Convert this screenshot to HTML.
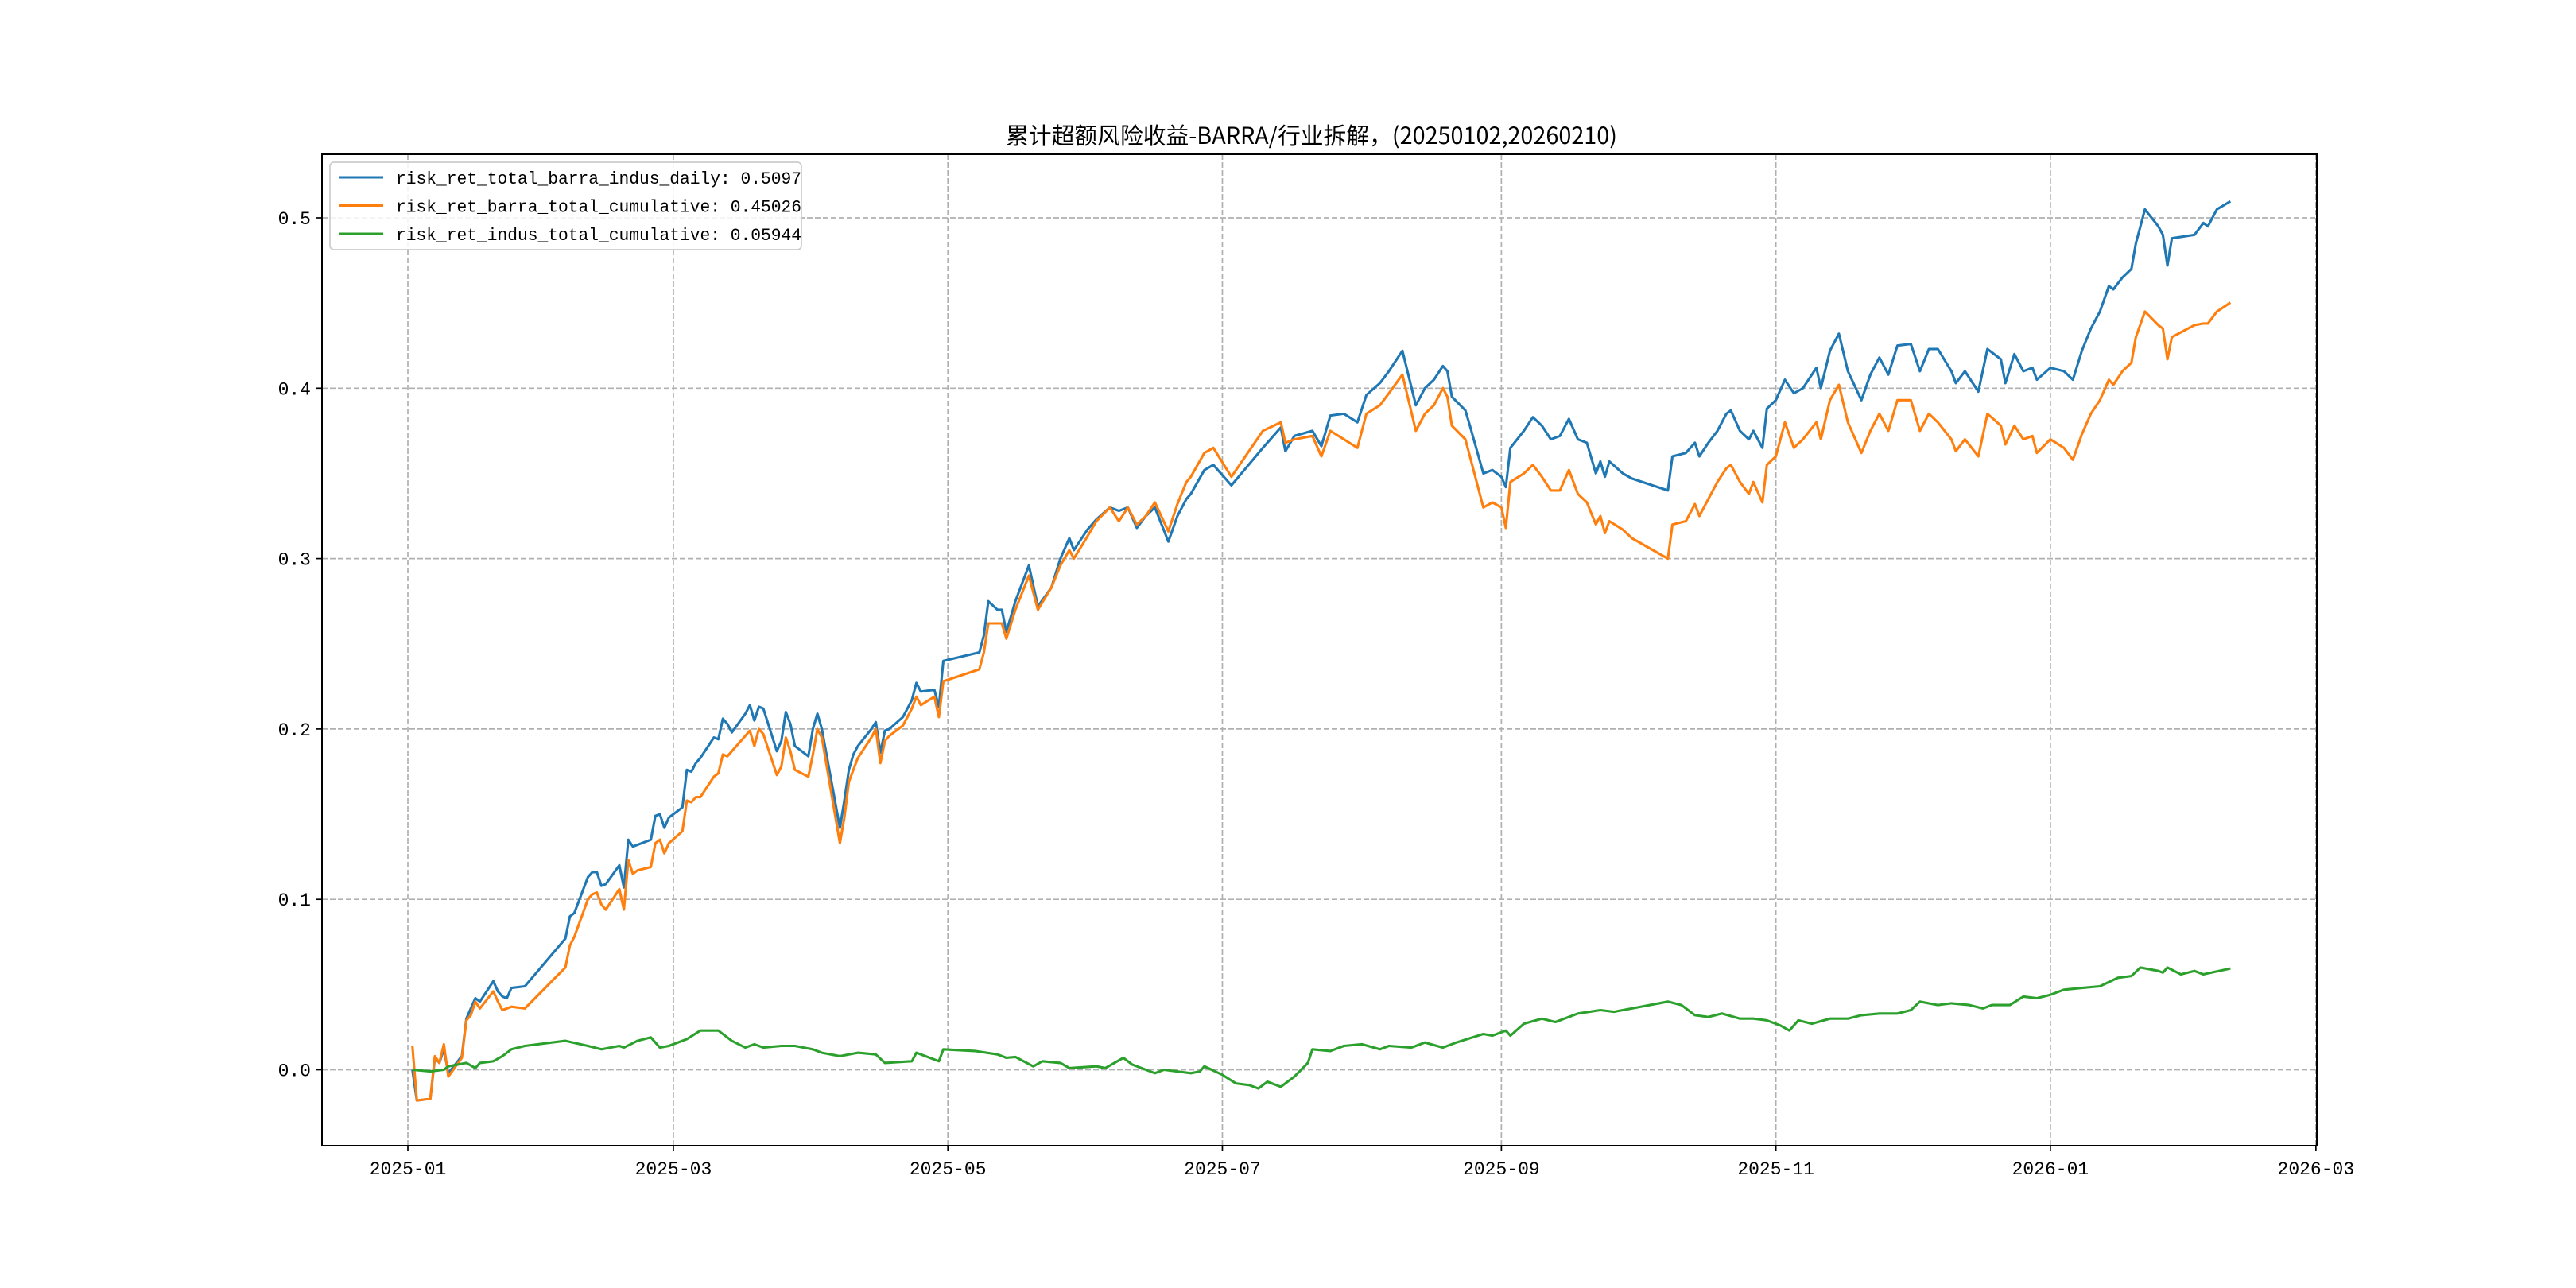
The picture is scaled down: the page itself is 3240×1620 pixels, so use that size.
<!DOCTYPE html>
<html><head><meta charset="utf-8"><style>
html,body{margin:0;padding:0;background:#fff;}
svg{display:block;}
text{font-family:"Liberation Mono","Noto Sans CJK SC",monospace;fill:#000;}
</style></head><body>
<svg id="chart" width="3240" height="1620" viewBox="0 0 3240 1620" xmlns="http://www.w3.org/2000/svg">
<rect width="3240" height="1620" fill="#fff"/>
<g id="grid"></g><g id="series"></g><g id="axes"></g><g id="legend"></g>
<text x="1265" y="181" font-size="29" textLength="769" lengthAdjust="spacingAndGlyphs" style="font-family:'Noto Sans CJK SC','WenQuanYi Zen Hei',sans-serif">累计超额风险收益-BARRA/行业拆解，(20250102,20260210)</text>
</svg>
<script>
const seriesNames = ["risk_ret_total_barra_indus_daily: 0.5097","risk_ret_barra_total_cumulative: 0.45026","risk_ret_indus_total_cumulative: 0.05944"];
const seriesColors = ["#1f77b4","#ff7f0e","#2ca02c"];
const yTicks = [0.0,0.1,0.2,0.3,0.4,0.5];
const xTicks = ["2025-01","2025-03","2025-05","2025-07","2025-09","2025-11","2026-01","2026-03"];
const dates = ["2025-01-02","2025-01-03","2025-01-06","2025-01-07","2025-01-08","2025-01-09","2025-01-10","2025-01-13","2025-01-14","2025-01-15","2025-01-16","2025-01-17","2025-01-20","2025-01-21","2025-01-22","2025-01-23","2025-01-24","2025-01-27","2025-02-05","2025-02-06","2025-02-07","2025-02-10","2025-02-11","2025-02-12","2025-02-13","2025-02-14","2025-02-17","2025-02-18","2025-02-19","2025-02-20","2025-02-21","2025-02-24","2025-02-25","2025-02-26","2025-02-27","2025-02-28","2025-03-03","2025-03-04","2025-03-05","2025-03-06","2025-03-07","2025-03-10","2025-03-11","2025-03-12","2025-03-13","2025-03-14","2025-03-17","2025-03-18","2025-03-19","2025-03-20","2025-03-21","2025-03-24","2025-03-25","2025-03-26","2025-03-27","2025-03-28","2025-03-31","2025-04-01","2025-04-02","2025-04-03","2025-04-07","2025-04-08","2025-04-09","2025-04-10","2025-04-11","2025-04-14","2025-04-15","2025-04-16","2025-04-17","2025-04-18","2025-04-21","2025-04-22","2025-04-23","2025-04-24","2025-04-25","2025-04-28","2025-04-29","2025-04-30",
"2025-05-08","2025-05-09","2025-05-10","2025-05-12","2025-05-13","2025-05-14","2025-05-16","2025-05-19","2025-05-21","2025-05-24","2025-05-26","2025-05-28","2025-05-29","2025-06-01","2025-06-03","2025-06-06","2025-06-08","2025-06-10","2025-06-12","2025-06-14","2025-06-16","2025-06-19","2025-06-21","2025-06-23","2025-06-24","2025-06-27","2025-06-29","2025-07-03","2025-07-10","2025-07-14","2025-07-15","2025-07-17","2025-07-21","2025-07-23","2025-07-25","2025-07-28","2025-07-31","2025-08-02","2025-08-05","2025-08-07","2025-08-10","2025-08-13","2025-08-15","2025-08-17","2025-08-19","2025-08-20","2025-08-21","2025-08-24","2025-08-25","2025-08-28","2025-08-30","2025-09-01","2025-09-02","2025-09-03","2025-09-06","2025-09-08","2025-09-10","2025-09-12","2025-09-14","2025-09-16","2025-09-18","2025-09-20","2025-09-22","2025-09-23","2025-09-24","2025-09-25","2025-09-28","2025-09-30","2025-10-08","2025-10-09","2025-10-12","2025-10-14","2025-10-15","2025-10-17","2025-10-19","2025-10-21","2025-10-22","2025-10-24","2025-10-26","2025-10-27","2025-10-29","2025-10-30","2025-11-01","2025-11-03","2025-11-05","2025-11-07","2025-11-10","2025-11-11","2025-11-13","2025-11-15","2025-11-17","2025-11-20","2025-11-22","2025-11-24","2025-11-26","2025-11-28","2025-12-01","2025-12-03","2025-12-05","2025-12-07","2025-12-10","2025-12-11","2025-12-13","2025-12-16","2025-12-18","2025-12-21","2025-12-22","2025-12-24","2025-12-26","2025-12-28","2025-12-29","2026-01-01","2026-01-04","2026-01-06","2026-01-08","2026-01-10","2026-01-12","2026-01-14","2026-01-15","2026-01-17","2026-01-19","2026-01-20","2026-01-22","2026-01-25","2026-01-26","2026-01-27","2026-01-28","2026-02-02","2026-02-04","2026-02-05","2026-02-07","2026-02-10"];
const blueValues = [0.0,-0.018,-0.017,0.007,0.004,0.012,-0.002,0.008,0.03,0.036,0.042,0.04,0.052,0.046,0.043,0.042,0.048,0.049,0.077,0.09,0.092,0.113,0.116,0.116,0.108,0.109,0.12,0.107,0.135,0.131,0.132,0.135,0.149,0.15,0.142,0.148,0.154,0.176,0.175,0.18,0.183,0.195,0.194,0.206,0.203,0.198,0.209,0.214,0.205,0.213,0.212,0.187,0.193,0.21,0.203,0.19,0.184,0.2,0.209,0.2,0.142,0.158,0.176,0.185,0.19,0.2,0.204,0.186,0.199,0.2,0.207,0.212,0.217,0.227,0.222,0.223,0.213,0.24,
0.245,0.255,0.275,0.27,0.27,0.257,0.275,0.296,0.272,0.283,0.3,0.312,0.305,0.317,0.323,0.33,0.328,0.33,0.318,0.325,0.33,0.31,0.325,0.335,0.338,0.352,0.355,0.343,0.365,0.377,0.363,0.372,0.375,0.366,0.384,0.385,0.38,0.396,0.403,0.41,0.422,0.39,0.4,0.405,0.413,0.41,0.395,0.387,0.378,0.35,0.352,0.348,0.342,0.365,0.375,0.383,0.378,0.37,0.372,0.382,0.37,0.368,0.35,0.357,0.348,0.357,0.35,0.347,0.34,0.36,0.362,0.368,0.36,0.368,0.375,0.385,0.387,0.375,0.37,0.375,0.365,0.388,0.393,0.405,0.397,0.4,0.412,0.4,0.422,0.432,0.41,0.393,0.408,0.418,0.408,0.425,0.426,0.41,0.423,0.423,0.41,0.403,0.41,0.398,0.423,0.417,0.403,0.42,0.41,0.412,0.405,0.412,0.41,0.405,0.422,0.435,0.445,0.46,0.458,0.465,0.47,0.485,0.505,0.495,0.49,0.472,0.488,0.49,0.497,0.495,0.505,0.5097];
const orangeValues = [0.014,-0.018,-0.017,0.008,0.004,0.015,-0.004,0.007,0.029,0.032,0.04,0.036,0.046,0.04,0.035,0.036,0.037,0.036,0.06,0.073,0.078,0.1,0.103,0.104,0.097,0.094,0.106,0.094,0.123,0.115,0.117,0.119,0.133,0.135,0.127,0.133,0.14,0.158,0.157,0.16,0.16,0.172,0.174,0.185,0.184,0.187,0.196,0.199,0.19,0.2,0.197,0.173,0.178,0.195,0.187,0.176,0.172,0.185,0.2,0.195,0.133,0.148,0.169,0.176,0.183,0.195,0.2,0.18,0.193,0.196,0.202,0.207,0.212,0.219,0.214,0.219,0.207,0.228,
0.235,0.245,0.262,0.262,0.262,0.253,0.27,0.29,0.27,0.283,0.296,0.305,0.3,0.313,0.322,0.33,0.322,0.33,0.32,0.325,0.333,0.316,0.332,0.345,0.348,0.362,0.365,0.348,0.375,0.38,0.368,0.37,0.372,0.36,0.375,0.37,0.365,0.385,0.39,0.397,0.408,0.375,0.385,0.39,0.4,0.395,0.378,0.37,0.36,0.33,0.333,0.33,0.318,0.345,0.35,0.355,0.348,0.34,0.34,0.352,0.338,0.333,0.32,0.325,0.315,0.322,0.317,0.312,0.3,0.32,0.322,0.332,0.325,0.335,0.345,0.353,0.355,0.345,0.338,0.345,0.333,0.355,0.36,0.38,0.365,0.37,0.38,0.37,0.393,0.402,0.38,0.362,0.375,0.385,0.375,0.393,0.393,0.375,0.385,0.38,0.37,0.363,0.37,0.36,0.385,0.378,0.367,0.378,0.37,0.372,0.362,0.37,0.365,0.358,0.373,0.385,0.393,0.405,0.402,0.41,0.415,0.43,0.445,0.437,0.435,0.417,0.43,0.437,0.438,0.438,0.445,0.45026];
const greenDates = ["2025-01-02","2025-01-06","2025-01-09","2025-01-10","2025-01-14","2025-01-16","2025-01-17","2025-01-20","2025-01-22","2025-01-24","2025-01-27","2025-02-05","2025-02-10","2025-02-13","2025-02-17","2025-02-18","2025-02-21","2025-02-24","2025-02-26","2025-02-28","2025-03-04","2025-03-07","2025-03-11","2025-03-14","2025-03-17","2025-03-19","2025-03-21","2025-03-25","2025-03-28","2025-04-01","2025-04-03","2025-04-07","2025-04-11","2025-04-15","2025-04-17","2025-04-23","2025-04-24","2025-04-29","2025-04-30","2025-05-07","2025-05-12","2025-05-14","2025-05-16","2025-05-20","2025-05-22","2025-05-26","2025-05-28","2025-06-03","2025-06-05","2025-06-09","2025-06-11","2025-06-16","2025-06-18","2025-06-24","2025-06-26","2025-06-27","2025-07-01","2025-07-04","2025-07-07","2025-07-09","2025-07-11","2025-07-14","2025-07-17","2025-07-20","2025-07-21","2025-07-25","2025-07-28","2025-08-01","2025-08-05","2025-08-07","2025-08-12","2025-08-15","2025-08-19","2025-08-22","2025-08-28","2025-08-30","2025-09-02","2025-09-03","2025-09-06","2025-09-10","2025-09-13","2025-09-16","2025-09-18","2025-09-23","2025-09-26","2025-09-30","2025-10-08","2025-10-11","2025-10-14","2025-10-17","2025-10-20","2025-10-24","2025-10-27","2025-10-30","2025-11-02","2025-11-04","2025-11-06","2025-11-09","2025-11-13","2025-11-17","2025-11-20","2025-11-24","2025-11-28","2025-12-01","2025-12-03","2025-12-07","2025-12-10","2025-12-14","2025-12-17","2025-12-19","2025-12-23","2025-12-26","2025-12-29","2026-01-01","2026-01-04","2026-01-08","2026-01-12","2026-01-16","2026-01-19","2026-01-21","2026-01-25","2026-01-26","2026-01-27","2026-01-30","2026-02-02","2026-02-04","2026-02-10"];
const greenValues = [0.0,-0.001,0.0,0.002,0.004,0.001,0.004,0.005,0.008,0.012,0.014,0.017,0.014,0.012,0.014,0.013,0.017,0.019,0.013,0.014,0.018,0.023,0.023,0.017,0.013,0.015,0.013,0.014,0.014,0.012,0.01,0.008,0.01,0.009,0.004,0.005,0.01,0.005,0.012,0.011,0.009,0.007,0.0075,0.002,0.005,0.004,0.001,0.002,0.001,0.007,0.003,-0.002,0.0,-0.002,-0.001,0.002,-0.003,-0.008,-0.009,-0.011,-0.007,-0.01,-0.004,0.004,0.012,0.011,0.014,0.015,0.012,0.014,0.013,0.016,0.013,0.016,0.021,0.02,0.023,0.02,0.027,0.03,0.028,0.031,0.033,0.035,0.034,0.036,0.04,0.038,0.032,0.031,0.033,0.03,0.03,0.029,0.026,0.023,0.029,0.027,0.03,0.03,0.032,0.033,0.033,0.035,0.04,0.038,0.039,0.038,0.036,0.038,0.038,0.043,0.042,0.044,0.047,0.048,0.049,0.054,0.055,0.06,0.058,0.057,0.06,0.056,0.058,0.056,0.05944];

const NS="http://www.w3.org/2000/svg";
const L=405,R=2914,T=194,B=1441;
const D0=Date.UTC(2025,0,1);
function dayOf(s){const p=s.split("-");return (Date.UTC(+p[0],+p[1]-1,+(p[2]||1))-D0)/86400000;}
function xScale(s){return 513+dayOf(s)*5.66;}
function yScale(v){return 1345.5-v*2143;}
function el(tag,attrs,parent){const e=document.createElementNS(NS,tag);for(const k in attrs)e.setAttribute(k,attrs[k]);parent.appendChild(e);return e;}
const grid=document.getElementById("grid"),axes=document.getElementById("axes"),ser=document.getElementById("series"),leg=document.getElementById("legend");
yTicks.forEach(v=>{const y=yScale(v);
 const g=el("line",{x1:L,x2:R,y1:y,y2:y,stroke:"#b0b0b0","stroke-width":1.7,"stroke-dasharray":"7,3"},grid);
 
 
 el("line",{x1:L-7,x2:L,y1:y,y2:y,stroke:"#000","stroke-width":1.7},axes);
 const t=el("text",{x:L-14,y:y+8,"font-size":23,"text-anchor":"end"},axes);t.textContent=v.toFixed(1);
 
 
});
xTicks.forEach(s=>{const x=xScale(s);
 const g=el("line",{x1:x,x2:x,y1:T,y2:B,stroke:"#b0b0b0","stroke-width":1.7,"stroke-dasharray":"7,3"},grid);
 
 
 el("line",{x1:x,x2:x,y1:B,y2:B+7,stroke:"#000","stroke-width":1.7},axes);
 const t=el("text",{x:x,y:B+36,"font-size":23,"text-anchor":"middle"},axes);t.textContent=s;
 
 
});
const frame=el("rect",{x:L,y:T,width:R-L,height:B-T,fill:"none",stroke:"#000","stroke-width":2},axes);


const allSeries=[[dates,blueValues],[dates,orangeValues],[greenDates,greenValues]];
const lineNames=["line-total-barra-indus","line-barra-total","line-indus-total"];
allSeries.forEach((sd,i)=>{
 const pts=sd[0].map((d,j)=>xScale(d).toFixed(1)+","+yScale(sd[1][j]).toFixed(1)).join(" ");
 const p=el("polyline",{points:pts,fill:"none",stroke:seriesColors[i],"stroke-width":3.1,"stroke-linejoin":"round"},ser);
 
 
});
const lb=el("rect",{x:415,y:204,width:593,height:110,rx:5,fill:"#fff","fill-opacity":0.85,stroke:"#cccccc","stroke-width":1.7},leg);


seriesNames.forEach((n,i)=>{const y=223+i*35.5;
 const ln=el("line",{x1:426,x2:482,y1:y,y2:y,stroke:seriesColors[i],"stroke-width":3.1},leg);
 
 
 const t=el("text",{x:498,y:y+8,"font-size":22,textLength:n.length*12.75,lengthAdjust:"spacingAndGlyphs"},leg);t.textContent=n;
 
 
});
</script>
</body></html>
